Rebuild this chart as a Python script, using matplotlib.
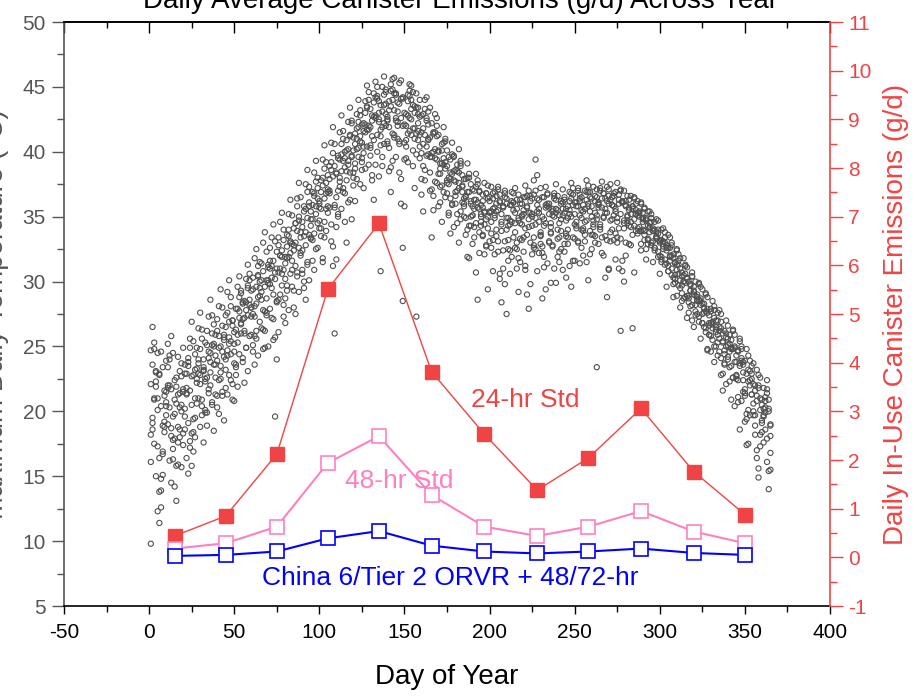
import numpy as np
import matplotlib
matplotlib.use("Agg")
import matplotlib.pyplot as plt
from matplotlib.ticker import MultipleLocator

plt.rcParams["font.family"] = ["Liberation Sans", "DejaVu Sans"]
plt.rcParams["axes.unicode_minus"] = False

# daily maximum temperature (deg C), one list per year, day 1..365
temp_year_a = np.array("""
18.2 19.5 21.0 22.3 20.1 16.4 14.8 16.9 19.2 21.5 23.4 22.0 18.7 17.1 19.8 21.9 24.2 23.1 20.5 18.3
19.6 21.8 23.5 24.9 22.7 19.4 18.0 20.6 22.9 24.8 25.6 23.2 20.1 18.9 21.4 23.8 25.1 26.7 24.3 21.2
19.8 22.5 24.6 25.9 24.0 21.3 22.8 25.4 27.0 26.1 23.6 21.9 24.4 26.8 28.3 27.2 24.9 23.1 25.8 28.0
29.4 28.1 25.6 24.3 26.9 29.2 30.8 29.6 27.4 25.0 27.9 30.3 31.6 30.2 28.5 26.1 29.0 31.9 33.2 31.4
29.3 27.8 30.6 32.9 34.1 33.0 30.7 29.2 32.0 34.6 35.4 33.8 31.5 30.1 33.3 35.9 36.8 35.2 32.6 34.7
36.9 38.0 36.4 33.9 35.8 37.9 39.2 38.1 35.7 34.2 37.0 39.4 40.6 39.3 36.8 38.5 40.2 41.3 39.6 37.4
39.1 41.0 42.3 41.2 38.6 40.4 42.1 43.5 42.0 39.7 38.2 40.9 42.8 44.1 43.0 40.5 41.9 43.6 44.8 42.7
40.3 38.8 41.4 43.2 44.5 43.1 40.6 37.9 28.5 39.4 42.0 43.9 44.7 42.5 40.1 41.8 43.4 42.2 39.5 36.7
38.9 41.3 42.6 41.0 38.4 39.9 41.5 40.2 37.6 35.8 38.3 40.1 39.0 36.5 37.8 39.6 38.4 35.9 34.2 36.9
38.5 37.2 34.8 36.1 37.9 36.6 34.0 31.8 35.0 37.1 36.3 34.5 35.7 37.0 35.9 33.6 32.1 34.8 36.4 35.3
33.7 35.6 36.9 35.4 33.1 30.6 33.9 35.8 36.5 34.9 33.2 34.7 36.2 35.5 33.8 32.5 34.9 36.3 35.1 33.4
31.2 33.6 35.3 36.6 35.0 32.8 34.4 35.9 34.6 32.9 28.7 31.9 34.5 36.0 35.2 33.7 35.1 36.4 35.6 34.0
32.3 34.8 36.1 35.3 33.5 34.9 36.2 35.0 33.4 31.6 34.3 35.8 36.7 35.5 34.1 35.6 36.9 35.8 33.9 32.5
34.7 36.2 37.1 35.9 34.4 35.7 36.8 35.6 33.2 30.9 33.8 35.9 36.6 35.4 34.6 36.0 37.0 36.1 34.5 33.0
35.1 36.3 35.2 33.6 34.8 36.0 35.3 33.9 32.4 34.6 35.7 34.9 33.3 34.5 35.2 34.1 32.6 33.8 34.7 33.2
31.5 32.9 33.8 32.4 30.8 31.9 33.0 32.1 30.2 28.9 30.6 31.8 30.4 28.7 29.9 31.1 30.0 28.1 27.0 29.2
30.0 28.6 26.9 28.2 29.4 28.0 26.1 24.8 26.6 27.9 26.7 25.0 26.3 27.6 26.2 24.1 22.9 24.7 26.0 25.1
23.4 24.9 26.2 25.0 22.7 21.1 23.5 24.8 23.6 21.4 19.8 22.3 23.9 22.5 20.6 18.9 21.2 22.8 21.0 19.3
17.6 19.9 21.4 20.2 18.1
""".split(), dtype=float)

temp_year_b = np.array("""
22.1 23.6 24.8 21.9 17.3 13.8 12.6 15.1 18.4 20.7 19.0 16.2 14.5 17.8 20.9 22.6 21.3 18.0 15.7 17.4
20.2 22.9 24.1 21.6 18.3 16.9 19.5 22.2 24.0 22.8 20.4 23.1 25.3 26.2 24.6 22.0 20.5 23.6 25.9 27.1
25.8 23.0 21.5 24.2 26.5 27.6 25.2 22.4 20.9 23.7 26.3 27.9 28.8 26.7 24.1 26.0 28.4 29.7 28.2 25.9
24.6 27.3 29.6 30.5 28.9 26.4 24.8 27.7 30.1 31.3 29.8 27.2 25.5 19.6 24.0 28.6 31.0 32.4 30.9 28.7
31.8 33.5 32.2 29.6 28.0 31.2 33.9 35.0 33.4 30.9 29.5 32.8 34.9 36.1 34.3 31.6 33.7 35.8 37.2 36.0
33.5 31.8 34.6 36.8 38.2 37.0 34.4 32.7 35.9 38.3 39.5 38.0 35.6 36.9 38.8 40.1 39.0 36.3 34.8 38.0
40.6 41.8 40.3 37.5 39.2 41.6 43.0 41.7 39.0 40.5 42.4 43.8 42.6 40.0 38.1 30.8 39.6 42.2 43.7 42.4
43.9 45.2 44.0 41.3 39.6 42.0 43.7 45.5 44.2 42.1 40.4 42.8 44.3 45.1 43.6 41.0 27.3 40.9 42.7 41.5
42.9 44.0 42.4 39.8 37.0 33.4 36.6 39.5 41.2 40.0 37.3 39.1 40.7 39.2 36.8 35.1 37.9 39.8 38.5 36.0
35.2 37.6 38.9 37.4 35.0 36.5 38.0 36.9 34.3 32.9 35.6 37.3 36.1 33.8 35.2 36.7 35.4 32.7 29.4 33.1
35.4 36.8 35.7 34.0 35.5 36.7 35.2 32.4 29.8 27.5 31.6 34.4 35.9 36.8 35.3 33.0 31.8 34.5 36.0 35.2
34.1 35.7 37.0 36.2 34.3 32.6 34.9 36.4 35.3 33.5 35.0 36.5 37.3 35.8 33.1 29.9 32.7 35.0 36.3 35.5
34.5 36.0 35.1 32.9 30.3 33.4 35.5 36.8 35.9 34.4 35.8 37.0 36.2 34.0 32.0 34.6 36.3 37.4 36.5 35.0
33.6 35.3 36.5 35.7 34.0 32.2 34.9 36.4 37.3 36.0 34.7 35.9 36.8 35.6 33.4 31.0 26.2 30.8 34.1 35.8
36.6 35.5 34.2 35.6 36.5 35.2 33.7 35.0 36.1 35.3 33.9 32.5 34.3 35.4 34.6 33.1 34.0 34.8 33.7 32.0
33.2 34.1 33.0 31.4 32.6 33.4 32.0 30.3 31.5 32.5 31.3 29.5 30.7 31.8 30.6 28.9 27.6 29.3 30.4 29.0
27.4 28.8 29.9 28.5 26.8 27.9 29.0 27.6 25.9 24.6 26.4 27.8 26.5 24.3 25.6 26.9 25.4 23.6 22.1 24.2
25.9 24.8 22.6 20.4 22.8 24.6 25.4 23.9 21.5 19.2 17.4 20.1 22.4 23.5 22.1 19.7 17.0 15.6 18.2 20.5
21.8 20.3 17.9 15.4 16.8
""".split(), dtype=float)

temp_year_c = np.array("""
16.1 18.6 20.9 23.0 24.5 22.8 20.4 18.9 21.6 23.9 25.2 24.0 21.7 19.6 17.9 15.8 17.6 20.3 22.7 21.5
18.6 16.4 15.2 17.7 20.5 22.8 24.4 23.3 21.0 18.8 20.9 23.4 22.3 19.9 21.7 24.5 26.0 25.2 22.6 20.3
22.4 25.0 26.6 25.5 23.2 24.7 26.9 28.1 27.0 24.6 22.8 25.3 27.7 29.1 28.4 26.2 27.8 29.5 30.6 29.3
27.5 25.8 28.3 30.4 31.5 30.1 27.8 26.2 28.7 31.1 32.6 31.2 29.0 30.7 32.3 33.4 32.0 29.7 27.3 30.2
32.7 34.0 33.1 30.9 32.4 34.5 35.8 34.7 32.2 30.6 33.5 35.6 36.9 35.8 33.4 34.8 36.6 37.7 36.4 34.1
35.6 37.4 38.7 37.6 35.3 36.8 38.6 39.9 38.9 36.5 35.0 37.7 39.8 41.0 40.0 37.8 39.3 41.2 42.4 41.1
38.7 40.2 41.9 43.2 42.1 39.9 41.5 43.4 44.6 43.3 41.2 42.7 44.2 45.0 43.9 41.7 43.1 44.4 42.9 40.6
41.9 43.5 44.8 45.7 44.4 42.3 40.8 42.6 44.1 43.0 40.9 39.2 41.6 43.3 44.6 43.5 41.4 42.9 44.0 42.8
40.6 38.6 40.4 42.1 43.4 42.2 40.0 41.5 42.6 41.3 39.1 37.4 39.5 41.0 40.1 38.0 36.4 38.3 39.7 38.6
37.0 38.4 39.3 38.2 36.4 34.9 36.9 38.3 37.5 35.8 34.2 36.3 37.8 36.9 35.0 33.5 35.3 36.8 37.4 36.2
34.6 33.2 35.1 36.6 37.3 36.1 34.4 35.7 36.8 36.0 34.3 32.4 34.6 36.1 37.2 36.3 34.7 33.3 35.0 36.5
37.4 36.6 34.8 33.0 35.2 36.7 39.4 38.2 35.6 33.8 32.2 34.3 35.9 36.8 35.7 34.2 35.4 36.6 35.3 33.3
31.5 33.9 35.6 36.5 35.6 34.0 35.2 36.4 37.2 36.1 34.6 33.1 35.1 36.5 35.4 33.6 34.7 36.0 36.9 35.8
34.2 33.0 34.8 36.1 37.2 36.4 35.0 33.5 35.3 36.6 37.5 36.5 35.1 33.7 34.9 36.3 37.1 36.2 34.7 35.9
34.5 32.9 34.6 35.8 36.4 35.5 34.1 35.3 36.0 34.9 33.6 34.8 35.4 34.2 32.8 33.9 34.6 33.5 31.9 33.0
34.0 33.1 31.7 32.8 33.6 32.6 31.0 29.8 31.4 32.4 31.6 30.1 28.5 30.0 31.2 30.3 28.7 29.8 30.7 29.6
28.9 27.5 28.6 29.6 28.3 26.5 27.7 28.8 27.4 25.8 26.9 28.1 27.0 25.3 26.5 27.5 26.0 24.4 25.7 26.6
25.2 23.5 24.8 25.9 24.3 22.4 23.7 25.0 23.8 21.7 22.9 24.3 23.1 21.3 19.7 21.6 23.2 22.0 20.1 18.4
19.6 21.1 22.4 20.9 19.0
""".split(), dtype=float)

temp_year_d = np.array("""
9.8 19.1 17.5 15.0 12.3 11.4 13.9 16.7 18.8 20.4 21.8 20.3 18.1 16.3 14.2 13.1 15.9 18.6 20.0 21.7
22.9 21.3 19.1 17.2 15.8 18.4 21.0 22.5 23.7 22.1 19.7 17.6 19.9 22.6 24.1 23.0 20.7 18.5 21.3 23.9
24.9 23.5 21.2 19.3 21.8 24.3 25.7 24.4 22.1 20.8 23.4 25.9 27.2 26.0 23.8 22.2 24.9 27.4 28.6 27.3
25.1 23.6 26.2 28.8 30.0 28.6 26.3 24.9 27.6 29.9 31.0 29.5 27.1 25.7 28.4 30.7 32.0 30.6 28.2 26.8
29.7 31.9 33.0 31.6 29.3 27.5 30.4 32.6 33.8 32.4 30.0 28.6 31.3 33.6 34.8 33.2 30.9 32.5 34.5 35.7
34.1 31.5 33.4 35.6 36.9 35.7 33.1 31.2 26.0 31.7 35.2 37.3 38.5 37.2 34.6 33.0 36.1 38.4 39.7 38.4
36.2 37.9 39.6 40.8 39.5 37.2 38.7 40.4 41.7 40.3 37.8 36.3 39.0 41.3 42.5 41.2 38.9 40.6 42.0 40.8
38.5 36.9 39.3 41.1 42.4 41.0 38.4 36.0 32.6 35.8 39.5 41.4 42.6 41.3 38.9 37.2 39.8 41.6 40.4 37.9
35.4 37.8 39.7 40.9 39.6 37.1 35.5 37.7 39.4 38.3 36.1 34.6 36.9 38.7 37.6 35.3 33.7 36.0 37.8 36.6
34.5 33.0 35.4 36.9 35.8 33.6 31.9 34.3 36.0 35.1 33.4 30.7 28.6 32.2 34.6 35.7 34.4 32.8 34.1 35.4
32.6 30.8 32.1 33.5 32.3 30.2 28.4 31.0 33.1 34.0 32.5 30.6 31.9 33.4 32.6 31.0 29.2 31.5 33.2 32.3
30.9 29.0 27.9 29.8 32.1 33.4 32.5 30.8 32.2 33.6 32.7 31.1 29.4 31.4 33.0 33.8 32.8 31.0 29.9 31.9
33.4 32.5 30.9 32.3 33.7 32.9 31.2 29.6 31.6 33.3 34.1 33.0 31.4 32.6 33.9 33.1 31.5 30.1 32.1 33.6
34.4 33.5 23.4 32.9 34.2 33.4 32.0 30.3 28.8 31.0 33.1 34.0 33.2 31.7 33.0 34.1 33.3 31.6 30.0 32.0
35.0 34.3 32.8 26.4 30.7 33.9 35.1 34.2 32.9 34.0 33.2 31.7 32.9 33.8 33.0 31.5 32.6 33.4 32.3 30.6
31.7 32.5 31.3 29.6 30.8 31.6 30.5 28.8 29.9 30.9 29.7 28.0 29.1 30.0 28.8 27.2 28.4 29.3 28.2 26.5
27.7 28.5 27.3 25.6 26.8 27.6 26.4 24.7 25.9 26.8 25.5 23.8 25.0 25.9 24.6 22.8 21.6 23.7 25.0 24.0
22.3 20.9 22.6 23.8 22.5 20.7 18.6 20.8 22.4 21.2 19.4 17.5 19.7 21.3 20.0 18.2 16.4 14.9 17.3 19.1
20.2 18.6 16.1 14.0 15.5
""".split(), dtype=float)

temp_year_e = np.array("""
24.7 26.5 25.3 23.1 21.0 22.9 24.6 23.4 21.2 19.7 22.0 24.3 25.8 24.5 22.4 20.6 18.8 21.4 23.7 24.9
23.6 21.4 23.8 25.6 26.9 25.4 23.2 24.9 26.4 27.6 26.3 24.0 22.5 25.1 27.3 28.6 27.4 25.0 23.6 26.2
28.1 29.4 28.0 25.7 27.4 29.2 30.1 28.8 26.6 25.2 27.9 29.6 30.4 29.3 27.1 28.5 30.2 31.3 30.1 28.0
30.3 31.8 32.5 31.2 29.5 31.4 33.0 33.8 32.3 30.1 31.6 33.4 34.4 33.1 31.0 32.8 34.6 35.3 34.0 31.9
33.6 35.2 36.3 35.1 32.8 34.5 36.4 37.6 36.5 34.2 35.8 37.5 38.6 37.3 35.4 36.9 38.4 39.3 38.0 36.2
37.8 39.4 40.5 39.2 37.1 38.9 40.7 41.9 40.6 38.4 39.7 41.5 42.8 41.6 39.5 40.9 42.3 43.4 42.2 40.1
41.4 42.9 44.0 42.8 40.7 42.2 43.9 45.1 44.0 41.9 42.8 44.5 45.4 44.3 42.3 43.6 45.0 45.8 44.6 42.5
43.2 44.7 45.6 44.5 42.6 43.8 45.3 44.1 42.0 40.7 42.9 44.4 45.2 44.0 41.8 43.0 44.5 43.4 41.3 39.9
41.8 43.3 44.2 43.1 41.1 39.6 41.4 42.9 42.0 40.1 38.7 40.6 41.9 40.8 38.9 37.5 39.4 40.7 39.6 37.7
39.0 40.2 39.1 37.3 36.0 37.9 39.1 38.0 36.2 35.1 37.0 38.3 37.5 35.6 34.3 36.2 37.6 36.8 35.0 36.5
37.3 36.4 34.9 36.0 37.1 36.2 34.6 35.8 37.0 36.4 34.9 35.9 36.9 36.1 34.5 35.6 36.7 36.0 34.4 35.5
36.5 35.8 34.2 35.3 36.4 37.8 37.0 35.4 36.3 37.2 36.5 34.8 35.7 36.7 36.0 34.5 35.6 36.8 37.5 36.6
35.1 36.2 37.1 36.3 34.7 35.8 36.9 37.6 36.7 35.2 36.1 37.2 36.4 34.9 35.9 37.0 37.8 36.9 35.4 36.4
37.3 36.6 35.1 36.0 37.0 37.7 36.8 35.3 36.2 37.1 36.3 34.8 35.8 36.9 37.6 36.7 35.2 36.1 37.0 36.2
34.7 35.7 36.6 35.8 34.3 35.2 36.2 35.4 33.9 34.8 35.6 34.7 33.2 34.1 34.9 33.9 32.4 33.3 34.0 33.1
31.9 32.7 33.4 32.6 31.2 32.0 32.8 31.8 30.5 31.3 32.1 31.0 29.7 30.5 31.3 30.2 28.9 29.7 30.4 29.3
28.2 29.0 29.8 28.7 27.5 28.3 29.1 27.9 26.8 27.7 28.5 27.2 26.1 27.0 27.8 26.4 25.3 26.2 27.0 25.6
24.6 25.5 26.3 24.9 23.8 24.7 25.6 24.1 23.0 23.9 24.8 23.2 22.0 22.9 23.7 22.0 20.8 21.8 22.6 20.9
19.7 20.8 21.7 20.0 18.9
""".split(), dtype=float)

temp_years = [temp_year_a, temp_year_b, temp_year_c, temp_year_d, temp_year_e]

# monthly canister emissions (g/d), right axis
month_days = [15, 45, 75, 105, 135, 166, 197, 228, 258, 289, 320, 350]
std_24hr = [0.44, 0.85, 2.12, 5.51, 6.86, 3.81, 2.53, 1.38, 2.04, 3.06, 1.76, 0.88]
std_48hr = [0.18, 0.29, 0.63, 1.94, 2.49, 1.28, 0.63, 0.44, 0.63, 0.95, 0.53, 0.29]
china6_orvr = [0.03, 0.05, 0.12, 0.39, 0.54, 0.24, 0.12, 0.08, 0.12, 0.18, 0.09, 0.05]

RED = "#F04444"
PINK = "#FF80C0"
BLUE = "#0000FF"
GRAY = "#555555"

fig = plt.figure(figsize=(9.19, 6.97), dpi=100)
ax = fig.add_axes([64 / 919, 1 - 606 / 697, (830 - 64) / 919, (606 - 22) / 697])

for temps in temp_years:
    days = np.arange(1, len(temps) + 1)
    ax.scatter(days, temps, s=14, facecolors="none", edgecolors="#505050", linewidths=0.8, zorder=2)

ax.set_xlim(-50, 400)
ax.set_ylim(5, 50)
ax.xaxis.set_major_locator(MultipleLocator(50))
ax.xaxis.set_minor_locator(MultipleLocator(25))
ax.yaxis.set_major_locator(MultipleLocator(5))
ax.yaxis.set_minor_locator(MultipleLocator(2.5))
ax.tick_params(axis="x", which="major", direction="out", length=6, width=1, labelsize=15, colors="black", pad=6)
ax.tick_params(axis="x", which="minor", direction="out", length=4, width=1)
ax.tick_params(axis="y", which="major", direction="out", length=9, width=1, labelsize=15, colors=GRAY, pad=4)
ax.tick_params(axis="y", which="minor", direction="out", length=5, width=1, colors=GRAY)
ax.spines["left"].set_color(GRAY)
ax.spines["left"].set_linewidth(1.2)
ax.spines["bottom"].set_linewidth(1.2)
ax.spines["top"].set_linewidth(1.2)
ax.spines["right"].set_visible(False)
ax.set_xlabel("Day of Year", fontsize=20, labelpad=16)

top = ax.secondary_xaxis("top")
top.xaxis.set_major_locator(MultipleLocator(50))
top.xaxis.set_minor_locator(MultipleLocator(25))
top.tick_params(axis="x", which="major", direction="in", length=8, width=1, labeltop=False)
top.tick_params(axis="x", which="minor", direction="in", length=4, width=1)
top.spines["top"].set_linewidth(1.2)

ax2 = ax.twinx()
ax2.set_ylim(-1, 11)
ax2.yaxis.set_major_locator(MultipleLocator(1))
ax2.yaxis.set_minor_locator(MultipleLocator(0.5))
ax2.tick_params(axis="y", which="major", direction="out", length=9, width=1, labelsize=15, colors=RED, pad=4)
ax2.tick_params(axis="y", which="minor", direction="out", length=5, width=1, colors=RED)
for side in ("left", "top", "bottom"):
    ax2.spines[side].set_visible(False)
ax2.spines["right"].set_color(RED)
ax2.spines["right"].set_linewidth(1.2)
ax2.set_ylabel("Daily In-Use Canister Emissions (g/d)", fontsize=20, color=RED, labelpad=8)

ax2.plot(month_days, std_24hr, color=RED, lw=1.0, marker="s", ms=10,
         markerfacecolor=RED, markeredgecolor=RED, zorder=4)
ax2.plot(month_days, std_48hr, color=PINK, lw=1.5, marker="s", ms=10,
         markerfacecolor="white", markeredgecolor=PINK, markeredgewidth=1.2, zorder=4)
ax2.plot(month_days, china6_orvr, color=BLUE, lw=1.5, marker="s", ms=10,
         markerfacecolor="white", markeredgecolor=BLUE, markeredgewidth=1.2, zorder=4)

ax2.text(221, 3.23, "24-hr Std", color=RED, fontsize=19, ha="center", va="center")
ax2.text(147, 1.57, "48-hr Std", color=PINK, fontsize=19, ha="center", va="center")
ax2.text(177, -0.43, "China 6/Tier 2 ORVR + 48/72-hr", color=BLUE, fontsize=19, ha="center", va="center")

fig.text(461 / 919, 1 - 8 / 697, "Daily Average Canister Emissions (g/d) Across Year",
         fontsize=20, ha="center", va="baseline")
fig.text(9 / 919, 0.55, "Maximum Daily Temperature (\u00b0C)", fontsize=20, color=GRAY,
         rotation=90, ha="right", va="center")

fig.savefig("out.png", dpi=100)
